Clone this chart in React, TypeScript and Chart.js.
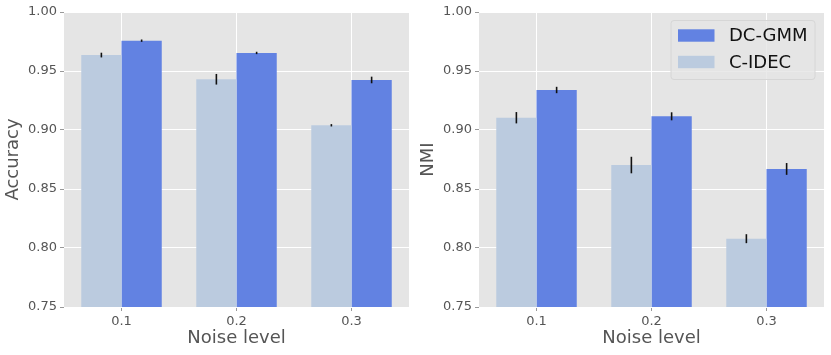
import React, { useEffect, useRef } from "react";
import { Chart, registerables } from "chart.js";

Chart.register(...registerables);

const categories = ["0.1", "0.2", "0.3"];
const seriesNames = ["C-IDEC", "DC-GMM"];
const seriesColors = ["#BBCBDF", "#6282E2"];

const accCidec = [0.9635, 0.943, 0.904];
const accCidecErr = [0.002, 0.0045, 0.001];
const accDcgmm = [0.9757, 0.9653, 0.9424];
const accDcgmmErr = [0.001, 0.001, 0.0028];

const nmiCidec = [0.9104, 0.8703, 0.8079];
const nmiCidecErr = [0.0048, 0.007, 0.0038];
const nmiDcgmm = [0.9339, 0.9116, 0.867];
const nmiDcgmmErr = [0.0027, 0.0034, 0.005];

const yMin = 0.75;
const yMax = 1.0;
const yStep = 0.05;

const xTitle = "Noise level";

const FONT = "'DejaVu Sans', sans-serif";

const bgPlugin = {
  id: "plotBg",
  beforeDraw(chart: any) {
    const { ctx, chartArea } = chart;
    ctx.save();
    ctx.fillStyle = "#E5E5E5";
    ctx.fillRect(chartArea.left, chartArea.top, chartArea.right - chartArea.left, chartArea.bottom - chartArea.top);
    ctx.restore();
  },
};

const errorBarPlugin = {
  id: "errorBars",
  afterDatasetsDraw(chart: any) {
    const ctx = chart.ctx;
    const y = chart.scales.y;
    chart.data.datasets.forEach((ds: any, i: number) => {
      const meta = chart.getDatasetMeta(i);
      meta.data.forEach((el: any, j: number) => {
        const v = ds.data[j];
        const e = ds.errors[j];
        ctx.save();
        ctx.strokeStyle = "#111";
        ctx.lineWidth = 1.6;
        ctx.beginPath();
        ctx.moveTo(el.x, y.getPixelForValue(v + e));
        ctx.lineTo(el.x, y.getPixelForValue(v - e));
        ctx.stroke();
        ctx.restore();
      });
    });
  },
};

const legendPlugin = {
  id: "insideLegend",
  afterDraw(chart: any) {
    const opts = chart.options.plugins.insideLegend;
    if (!opts || !opts.show) return;
    const ctx = chart.ctx;
    const area = chart.chartArea;
    const boxW = 144;
    const boxH = 59;
    const bx = area.right - 9 - boxW;
    const by = area.top + 8.5;
    ctx.save();
    ctx.beginPath();
    const r = 3;
    ctx.moveTo(bx + r, by);
    ctx.lineTo(bx + boxW - r, by);
    ctx.quadraticCurveTo(bx + boxW, by, bx + boxW, by + r);
    ctx.lineTo(bx + boxW, by + boxH - r);
    ctx.quadraticCurveTo(bx + boxW, by + boxH, bx + boxW - r, by + boxH);
    ctx.lineTo(bx + r, by + boxH);
    ctx.quadraticCurveTo(bx, by + boxH, bx, by + boxH - r);
    ctx.lineTo(bx, by + r);
    ctx.quadraticCurveTo(bx, by, bx + r, by);
    ctx.closePath();
    ctx.fillStyle = "rgba(229,229,229,0.8)";
    ctx.fill();
    ctx.strokeStyle = "#D6D6D6";
    ctx.lineWidth = 1;
    ctx.stroke();
    // order: DC-GMM first, then C-IDEC
    const order = [1, 0];
    order.forEach((dsIndex, k) => {
      const ds = chart.data.datasets[dsIndex];
      const cy = by + 15 + k * 26.5;
      ctx.fillStyle = ds.backgroundColor;
      ctx.fillRect(bx + 7, cy - 6.2, 36.5, 12.4);
      ctx.fillStyle = "#111";
      ctx.font = `18px ${FONT}`;
      ctx.textBaseline = "middle";
      ctx.textAlign = "left";
      ctx.fillText(ds.label, bx + 58, cy + 1);
    });
    ctx.restore();
  },
};

function makeConfig(
  yLabel: string,
  cidec: number[],
  cidecErr: number[],
  dcgmm: number[],
  dcgmmErr: number[],
  rightPad: number,
  showLegend: boolean
): any {
  return {
    type: "bar",
    data: {
      labels: categories,
      datasets: [
        {
          label: seriesNames[0],
          data: cidec,
          errors: cidecErr,
          backgroundColor: seriesColors[0],
          borderWidth: 0,
          categoryPercentage: 0.7,
          barPercentage: 1.0,
        },
        {
          label: seriesNames[1],
          data: dcgmm,
          errors: dcgmmErr,
          backgroundColor: seriesColors[1],
          borderWidth: 0,
          categoryPercentage: 0.7,
          barPercentage: 1.0,
        },
      ],
    },
    options: {
      responsive: false,
      animation: false,
      devicePixelRatio: 1,
      layout: { padding: { top: 12, right: rightPad, left: 0, bottom: 0 } },
      plugins: {
        legend: { display: false },
        tooltip: { enabled: false },
        insideLegend: { show: showLegend },
      },
      scales: {
        x: {
          offset: true,
          grid: {
            offset: false,
            color: "#FFFFFF",
            lineWidth: 1,
            tickColor: "#999999",
            tickLength: 4,
            drawOnChartArea: true,
          },
          border: { display: false },
          ticks: {
            color: "#555555",
            font: { family: FONT, size: 13 },
            padding: 3,
          },
          title: {
            display: true,
            text: xTitle,
            color: "#555555",
            font: { family: FONT, size: 18 },
            padding: { top: 0, bottom: 6 },
          },
          afterFit(scale: any) {
            scale.height = 48;
          },
        },
        y: {
          min: yMin,
          max: yMax,
          grid: {
            color: "#FFFFFF",
            lineWidth: 1,
            tickColor: "#999999",
            tickLength: 4,
          },
          border: { display: false },
          ticks: {
            stepSize: yStep,
            color: "#555555",
            font: { family: FONT, size: 13 },
            padding: 3,
            callback: (v: any) => Number(v).toFixed(2),
          },
          title: {
            display: true,
            text: yLabel,
            color: "#555555",
            font: { family: FONT, size: 18 },
            padding: { top: 3, bottom: 0 },
          },
          afterFit(scale: any) {
            scale.width = 64;
          },
        },
      },
    },
    plugins: [bgPlugin, errorBarPlugin, legendPlugin],
  };
}

function BarPanel(props: { config: any; width: number; left: number }) {
  const ref = useRef<HTMLCanvasElement | null>(null);
  useEffect(() => {
    if (!ref.current) return;
    const chart = new Chart(ref.current, props.config);
    return () => chart.destroy();
  }, []);
  return (
    <canvas
      ref={ref}
      width={props.width}
      height={355}
      style={{ position: "absolute", left: props.left, top: 0, width: props.width, height: 355 }}
    />
  );
}

export default function App() {
  const leftCfg = makeConfig("Accuracy", accCidec, accCidecErr, accDcgmm, accDcgmmErr, 6, false);
  const rightCfg = makeConfig("NMI", nmiCidec, nmiCidecErr, nmiDcgmm, nmiDcgmmErr, 7, true);
  return (
    <div style={{ position: "fixed", left: 0, top: 0, width: 831, height: 355, background: "#FFFFFF" }}>
      <BarPanel config={leftCfg} width={415} left={0} />
      <BarPanel config={rightCfg} width={416} left={415} />
    </div>
  );
}
